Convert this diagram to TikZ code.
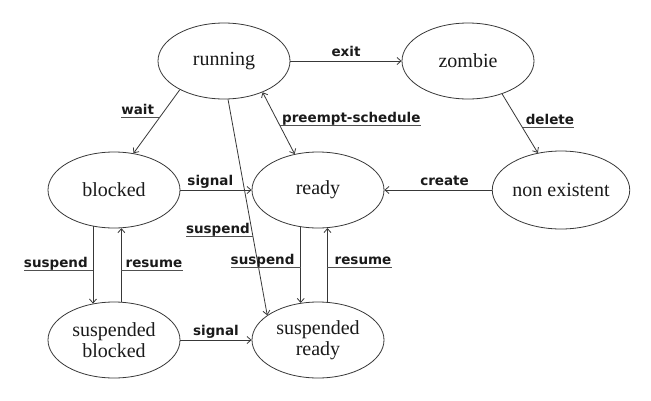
\documentclass[tikz,border=0pt]{standalone}
\usepackage{fontspec}
\setmainfont{Liberation Serif}
\newfontfamily\labfont{DejaVu Sans}
\usetikzlibrary{arrows.meta,shapes.geometric}
\definecolor{linec}{HTML}{383838}
\definecolor{txt}{HTML}{1A1A1A}
\definecolor{ulc}{HTML}{505050}
\begin{document}
\begin{tikzpicture}[x=1pt,y=-1pt,
  st/.style={ellipse,draw=linec,line width=0.8pt,minimum width=132pt,minimum height=76pt,
    inner sep=0pt,font=\fontsize{20}{21}\selectfont,align=center,text=txt},
  lab/.style={font=\labfont\bfseries\fontsize{13.5}{14}\selectfont,inner sep=0pt,text=txt},
  tip/.tip={Straight Barb[length=4pt,width=7pt]},
  conn/.style={draw=linec,line width=0.8pt,-tip},
  biconn/.style={draw=linec,line width=0.8pt,tip-tip},
  ul/.style={draw=ulc,line width=1pt}]
\fill[white] (0,0) rectangle (651,400);
\useasboundingbox (0,0) rectangle (651,400);

% states
\node[st] (running) at (224,61) {running};
\node[st] (zombie) at (468,61) {zombie};
\node[st,minimum height=78pt] (nonex) at (561,190) {non existent};
\node[st] (blocked) at (114,190) {blocked};
\node[st] (ready) at (318,190) {ready};
\node[st] (susblocked) at (114,340) {suspended\\blocked};
\node[st] (susready) at (318,340) {suspended\\ready};

% plain labelled transitions
\draw[conn] (running.east) -- node[lab,anchor=base,yshift=5pt] (lexit) {exit} (zombie.west);
\draw[conn] (blocked.east) -- node[lab,pos=.42,anchor=base,yshift=5pt] (lsig1) {signal} (ready.west);
\draw[conn] (nonex.west) -- node[lab,pos=.44,anchor=base,yshift=5pt] (lcre) {create} (ready.east);
\draw[conn] (susblocked.east) -- node[lab,midway,anchor=base,yshift=5pt] (lsig2) {signal} (susready.west);

% wait
\draw[conn] (running.213) -- coordinate[pos=.444] (uwait) (blocked.62);
\node[lab,anchor=base east] (lwait) at ([xshift=-5pt,yshift=3pt]uwait) {wait};
\draw[ul] (uwait) -- (uwait -| lwait.west);

% preempt-schedule
\draw[biconn] (running.-39) -- coordinate[pos=.542] (upre) (ready.123);
\node[lab,anchor=base west] (lpre) at ([xshift=2pt,yshift=3pt]upre) {preempt-schedule};
\draw[ul] (upre) -- (upre -| lpre.east);

% long suspend
\draw[conn] (running.-84) -- coordinate[pos=.637] (ususp) (susready.154);
\node[lab,anchor=base east] (lsusp) at ([xshift=-3pt,yshift=3pt]ususp) {suspend};
\draw[ul] (ususp) -- (ususp -| lsusp.west);

% delete
\draw[conn] (zombie.-44) -- coordinate[pos=.574] (udel) (nonex.122);
\node[lab,anchor=base west] (ldel) at ([xshift=3pt,yshift=3pt]udel) {delete};
\draw[ul] (udel) -- (udel -| ldel.east);

% blocked <-> suspended blocked
\draw[conn] (blocked.-120) -- coordinate[pos=.577] (ubs) (susblocked.120);
\node[lab,anchor=base east] (lbs) at ([xshift=-5pt,yshift=3pt]ubs) {suspend};
\draw[ul] (ubs) -- (ubs -| lbs.west);
\draw[conn] (susblocked.79.5) -- coordinate[pos=.42] (ubr) (blocked.-79.5);
\node[lab,anchor=base west] (lbr) at ([xshift=4pt,yshift=3pt]ubr) {resume};
\draw[ul] (ubr) -- (ubr -| lbr.east);

% ready <-> suspended ready
\draw[conn] (ready.-115) -- coordinate[pos=.539] (urs) (susready.115);
\node[lab,anchor=base east] (lrs) at ([xshift=-6pt,yshift=3pt]urs) {suspend};
\draw[ul] (urs) -- (urs -| lrs.west);
\draw[conn] (susready.76.5) -- coordinate[pos=.46] (urr) (ready.-76.5);
\node[lab,anchor=base west] (lrr) at ([xshift=7pt,yshift=3pt]urr) {resume};
\draw[ul] (urr) -- (urr -| lrr.east);
\end{tikzpicture}
\end{document}
